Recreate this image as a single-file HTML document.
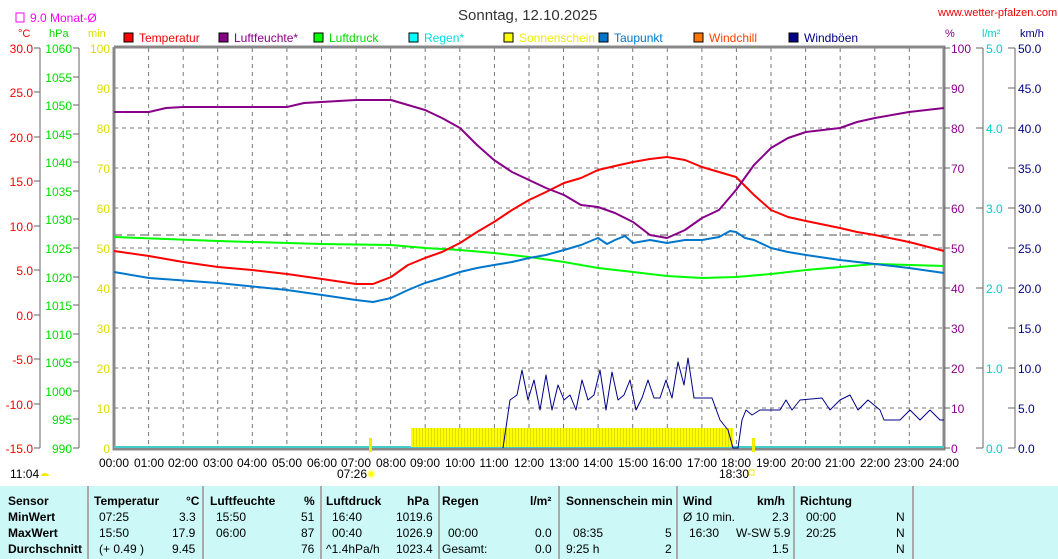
<!DOCTYPE html>
<html><head><meta charset="utf-8"><style>
html,body{margin:0;padding:0;background:#fff}
body{width:1058px;height:559px;overflow:hidden;font-family:"Liberation Sans",sans-serif}
svg text{font-family:"Liberation Sans",sans-serif;font-size:12px}
.t{position:absolute;left:0;top:486px;width:1058px;height:73px;background:#ccf8f8}
.c{position:absolute;top:0;height:73px;border-left:2px solid #aaa}
.r{position:absolute;font-size:12px;white-space:nowrap}
.b{font-weight:bold}
</style></head><body>
<svg width="1058" height="486" style="position:absolute;left:0;top:0">
<defs><pattern id="sun" width="3" height="20" patternUnits="userSpaceOnUse"><rect width="2" height="20" fill="#ff0"/><rect x="2" width="1" height="20" fill="#dd0"/></pattern></defs>
<text x="458" y="20" fill="#333" style="font-size:15px">Sonntag, 12.10.2025</text>
<text x="938" y="16" fill="#e00" style="font-size:11px">www.wetter-pfalzen.com</text>
<rect x="16" y="13" width="8" height="9" fill="none" stroke="#f0f"/>
<text x="30" y="22" fill="#f0f">9.0 Monat-Ø</text>
<text x="18" y="37" fill="#f00" style="font-size:11px">°C</text>
<text x="49" y="37" fill="#0d0" style="font-size:11px">hPa</text>
<text x="88" y="37" fill="#dd0" style="font-size:11px">min</text>
<text x="945" y="37" fill="#808" style="font-size:11px">%</text>
<text x="982" y="37" fill="#0cc" style="font-size:11px">l/m²</text>
<text x="1020" y="37" fill="#008" style="font-size:11px">km/h</text>
<g style="font-size:11px">
<rect x="124" y="33" width="9" height="9" fill="#f00" stroke="#000"/><text x="139" y="42" fill="#f00">Temperatur</text>
<rect x="219" y="33" width="9" height="9" fill="#808" stroke="#000"/><text x="234" y="42" fill="#808">Luftfeuchte*</text>
<rect x="314" y="33" width="9" height="9" fill="#0f0" stroke="#000"/><text x="329" y="42" fill="#0d0">Luftdruck</text>
<rect x="409" y="33" width="9" height="9" fill="#0ff" stroke="#000"/><text x="424" y="42" fill="#0dd">Regen*</text>
<rect x="504" y="33" width="9" height="9" fill="#ff0" stroke="#000"/><text x="519" y="42" fill="#ee0">Sonnenschein</text>
<rect x="599" y="33" width="9" height="9" fill="#07c" stroke="#000"/><text x="614" y="42" fill="#07c">Taupunkt</text>
<rect x="694" y="33" width="9" height="9" fill="#f70" stroke="#000"/><text x="709" y="42" fill="#f40">Windchill</text>
<rect x="789" y="33" width="9" height="9" fill="#008" stroke="#000"/><text x="804" y="42" fill="#008">Windböen</text>
</g>
<g stroke="#777" stroke-dasharray="4,4" stroke-width="1">
<path d="M148.6 48V448M183.2 48V448M217.7 48V448M252.3 48V448M286.9 48V448M321.5 48V448M356.1 48V448M390.6 48V448M425.2 48V448M459.8 48V448M494.4 48V448M529 48V448M563.5 48V448M598.1 48V448M632.7 48V448M667.3 48V448M701.9 48V448M736.4 48V448M771 48V448M805.6 48V448M840.2 48V448M874.8 48V448M909.3 48V448"/>
<path d="M114 88H944M114 128H944M114 168H944M114 208H944M114 248H944M114 288H944M114 328H944M114 368H944M114 408H944"/>
</g>
<path d="M114 235H944" stroke="#555" stroke-dasharray="8,5"/>
<path d="M114 47V449H944V47H114" stroke="#888" stroke-width="3" fill="none"/>
<path d="M114 447H944" stroke="#4cc" stroke-width="2"/>
<g stroke="#666"><path d="M40 48V448M79 48V448"/>
<path d="M34 48h6M34 92h6M34 137h6M34 181h6M34 226h6M34 270h6M34 315h6M34 359h6M34 404h6M34 448h6"/>
<path d="M73 48h6M73 77h6M73 105h6M73 134h6M73 162h6M73 191h6M73 219h6M73 248h6M73 277h6M73 305h6M73 334h6M73 362h6M73 391h6M73 419h6M73 448h6"/>
<path d="M944 48h6M944 88h6M944 128h6M944 168h6M944 208h6M944 248h6M944 288h6M944 328h6M944 368h6M944 408h6M944 448h6"/>
<path d="M983 48V448M1015 48V448M976 48h7M976 128h7M976 208h7M976 288h7M976 368h7M976 448h7"/>
<path d="M1008 48h7M1008 88h7M1008 128h7M1008 168h7M1008 208h7M1008 248h7M1008 288h7M1008 328h7M1008 368h7M1008 408h7M1008 448h7"/></g>
<g fill="#f00" text-anchor="end"><text x="33" y="53">30.0</text><text x="33" y="97">25.0</text><text x="33" y="142">20.0</text><text x="33" y="186">15.0</text><text x="33" y="231">10.0</text><text x="33" y="275">5.0</text><text x="33" y="320">0.0</text><text x="33" y="364">-5.0</text><text x="33" y="409">-10.0</text><text x="33" y="453">-15.0</text></g>
<g fill="#0d0" text-anchor="end"><text x="72" y="53">1060</text><text x="72" y="82">1055</text><text x="72" y="110">1050</text><text x="72" y="139">1045</text><text x="72" y="167">1040</text><text x="72" y="196">1035</text><text x="72" y="224">1030</text><text x="72" y="253">1025</text><text x="72" y="282">1020</text><text x="72" y="310">1015</text><text x="72" y="339">1010</text><text x="72" y="367">1005</text><text x="72" y="396">1000</text><text x="72" y="424">995</text><text x="72" y="453">990</text></g>
<g fill="#dd0" text-anchor="end"><text x="110" y="53">100</text><text x="110" y="93">90</text><text x="110" y="133">80</text><text x="110" y="173">70</text><text x="110" y="213">60</text><text x="110" y="253">50</text><text x="110" y="293">40</text><text x="110" y="333">30</text><text x="110" y="373">20</text><text x="110" y="413">10</text><text x="110" y="453">0</text></g>
<g fill="#808"><text x="951" y="53">100</text><text x="951" y="93">90</text><text x="951" y="133">80</text><text x="951" y="173">70</text><text x="951" y="213">60</text><text x="951" y="253">50</text><text x="951" y="293">40</text><text x="951" y="333">30</text><text x="951" y="373">20</text><text x="951" y="413">10</text><text x="951" y="453">0</text></g>
<g fill="#0cc"><text x="986" y="53">5.0</text><text x="986" y="133">4.0</text><text x="986" y="213">3.0</text><text x="986" y="293">2.0</text><text x="986" y="373">1.0</text><text x="986" y="453">0.0</text></g>
<g fill="#008"><text x="1018" y="53">50.0</text><text x="1018" y="93">45.0</text><text x="1018" y="133">40.0</text><text x="1018" y="173">35.0</text><text x="1018" y="213">30.0</text><text x="1018" y="253">25.0</text><text x="1018" y="293">20.0</text><text x="1018" y="333">15.0</text><text x="1018" y="373">10.0</text><text x="1018" y="413">5.0</text><text x="1018" y="453">0.0</text></g>
<g fill="#000" text-anchor="middle"><text x="114" y="467">00:00</text><text x="149" y="467">01:00</text><text x="183" y="467">02:00</text><text x="218" y="467">03:00</text><text x="252" y="467">04:00</text><text x="287" y="467">05:00</text><text x="322" y="467">06:00</text><text x="356" y="467">07:00</text><text x="391" y="467">08:00</text><text x="425" y="467">09:00</text><text x="460" y="467">10:00</text><text x="494" y="467">11:00</text><text x="529" y="467">12:00</text><text x="564" y="467">13:00</text><text x="598" y="467">14:00</text><text x="633" y="467">15:00</text><text x="667" y="467">16:00</text><text x="702" y="467">17:00</text><text x="736" y="467">18:00</text><text x="771" y="467">19:00</text><text x="806" y="467">20:00</text><text x="840" y="467">21:00</text><text x="875" y="467">22:00</text><text x="909" y="467">23:00</text><text x="944" y="467">24:00</text>
<text x="352" y="478">07:26</text><text x="734" y="478">18:30</text></g>
<text x="10" y="478">11:04</text>
<path d="M41 476a4 3 0 0 1 8 0z" fill="#ee0"/>
<circle cx="371" cy="474" r="3.5" fill="#ff0" stroke="#ffa" stroke-width="2"/>
<rect x="749" y="470" width="5" height="5" fill="none" stroke="#ee0"/>
<rect x="369" y="438" width="3" height="14" fill="#ee0"/><rect x="752" y="438" width="3" height="14" fill="#ee0"/>
<rect x="411" y="428" width="322" height="19" fill="url(#sun)"/>
<g fill="none" stroke-width="2" stroke-linejoin="round">
<polyline stroke="#0f0" points="114,237 218,241 322,244 391,245 425,248 460,250 494,253 529,257 564,262 598,268 633,272 667,276 702,278 736,277 771,274 806,270 840,267 875,264 944,266"/>
<polyline stroke="#07c" points="114,272 149,278 218,283 287,290 322,295 356,300 373,302 391,298 408,290 425,283 442,278 460,272 477,268 494,265 512,262 529,258 546,255 564,250 581,245 598,238 607,244 615,240 625,236 633,243 650,240 667,243 685,240 702,240 719,237 730,231 736,232 745,238 754,240 771,248 788,252 806,255 840,260 875,264 909,268 944,273"/>
<polyline stroke="#f00" points="114,251 149,256 183,262 218,267 252,270 287,274 322,279 356,284 373,284 391,277 408,265 425,258 442,252 460,243 477,232 494,222 512,210 529,200 546,192 564,183 581,178 598,170 615,166 633,162 650,159 667,157 685,160 702,167 719,172 736,177 754,195 771,210 788,217 806,221 840,228 857,232 875,235 909,242 944,251"/>
<polyline stroke="#808" points="114,112 149,112 166,108 183,107 287,107 304,103 356,100 391,100 408,105 425,110 442,118 460,128 477,145 494,160 512,172 529,180 546,188 564,195 581,205 598,207 615,213 633,222 650,235 667,238 685,230 702,218 719,210 736,190 754,165 771,148 788,138 806,132 840,128 857,122 875,118 909,112 944,108"/>
<polyline stroke="#008" stroke-width="1" points="503,448 510,400 517,395 522,370 528,400 534,380 540,410 546,375 552,410 558,385 564,400 570,395 576,410 582,380 588,400 594,395 600,370 606,410 612,372 618,400 624,395 630,380 636,410 642,398 648,380 654,398 660,398 666,380 672,398 678,362 684,385 688,358 694,398 712,398 720,420 728,430 733,448 738,448 742,420 746,410 752,415 760,410 780,410 786,400 792,410 800,400 822,398 830,410 840,400 850,395 858,410 868,400 880,410 884,420 900,420 910,410 920,420 930,410 940,420 944,420"/>
</g>
</svg>
<div class="t">
<div class="c" style="left:87px"></div><div class="c" style="left:202px"></div><div class="c" style="left:320px"></div><div class="c" style="left:438px"></div><div class="c" style="left:558px"></div><div class="c" style="left:676px"></div><div class="c" style="left:793px"></div><div class="c" style="left:912px"></div>
<div class="r b" style="left:8px;top:8px">Sensor</div><div class="r b" style="left:8px;top:24px">MinWert</div><div class="r b" style="left:8px;top:40px">MaxWert</div><div class="r b" style="left:8px;top:56px">Durchschnitt</div>
<div class="r b" style="left:94px;top:8px">Temperatur</div><div class="r b" style="left:186px;top:8px">°C</div>
<div class="r" style="left:99px;top:24px">07:25</div><div class="r" style="left:179px;top:24px">3.3</div>
<div class="r" style="left:99px;top:40px">15:50</div><div class="r" style="left:172px;top:40px">17.9</div>
<div class="r" style="left:99px;top:56px">(+ 0.49 )</div><div class="r" style="left:172px;top:56px">9.45</div>
<div class="r b" style="left:210px;top:8px">Luftfeuchte</div><div class="r b" style="left:304px;top:8px">%</div>
<div class="r" style="left:216px;top:24px">15:50</div><div class="r" style="left:301px;top:24px">51</div>
<div class="r" style="left:216px;top:40px">06:00</div><div class="r" style="left:301px;top:40px">87</div>
<div class="r" style="left:301px;top:56px">76</div>
<div class="r b" style="left:326px;top:8px">Luftdruck</div><div class="r b" style="left:407px;top:8px">hPa</div>
<div class="r" style="left:332px;top:24px">16:40</div><div class="r" style="left:396px;top:24px">1019.6</div>
<div class="r" style="left:332px;top:40px">00:40</div><div class="r" style="left:396px;top:40px">1026.9</div>
<div class="r" style="left:326px;top:56px">^1.4hPa/h</div><div class="r" style="left:396px;top:56px">1023.4</div>
<div class="r b" style="left:442px;top:8px">Regen</div><div class="r b" style="left:530px;top:8px">l/m²</div>
<div class="r" style="left:448px;top:40px">00:00</div><div class="r" style="left:535px;top:40px">0.0</div>
<div class="r" style="left:442px;top:56px">Gesamt:</div><div class="r" style="left:535px;top:56px">0.0</div>
<div class="r b" style="left:566px;top:8px">Sonnenschein min</div>
<div class="r" style="left:573px;top:40px">08:35</div><div class="r" style="left:665px;top:40px">5</div>
<div class="r" style="left:566px;top:56px">9:25 h</div><div class="r" style="left:665px;top:56px">2</div>
<div class="r b" style="left:683px;top:8px">Wind</div><div class="r b" style="left:757px;top:8px">km/h</div>
<div class="r" style="left:683px;top:24px">Ø 10 min.</div><div class="r" style="left:772px;top:24px">2.3</div>
<div class="r" style="left:689px;top:40px">16:30</div><div class="r" style="left:736px;top:40px">W-SW 5.9</div>
<div class="r" style="left:772px;top:56px">1.5</div>
<div class="r b" style="left:800px;top:8px">Richtung</div>
<div class="r" style="left:806px;top:24px">00:00</div><div class="r" style="left:896px;top:24px">N</div>
<div class="r" style="left:806px;top:40px">20:25</div><div class="r" style="left:896px;top:40px">N</div>
<div class="r" style="left:896px;top:56px">N</div>
</div>
</body></html>
